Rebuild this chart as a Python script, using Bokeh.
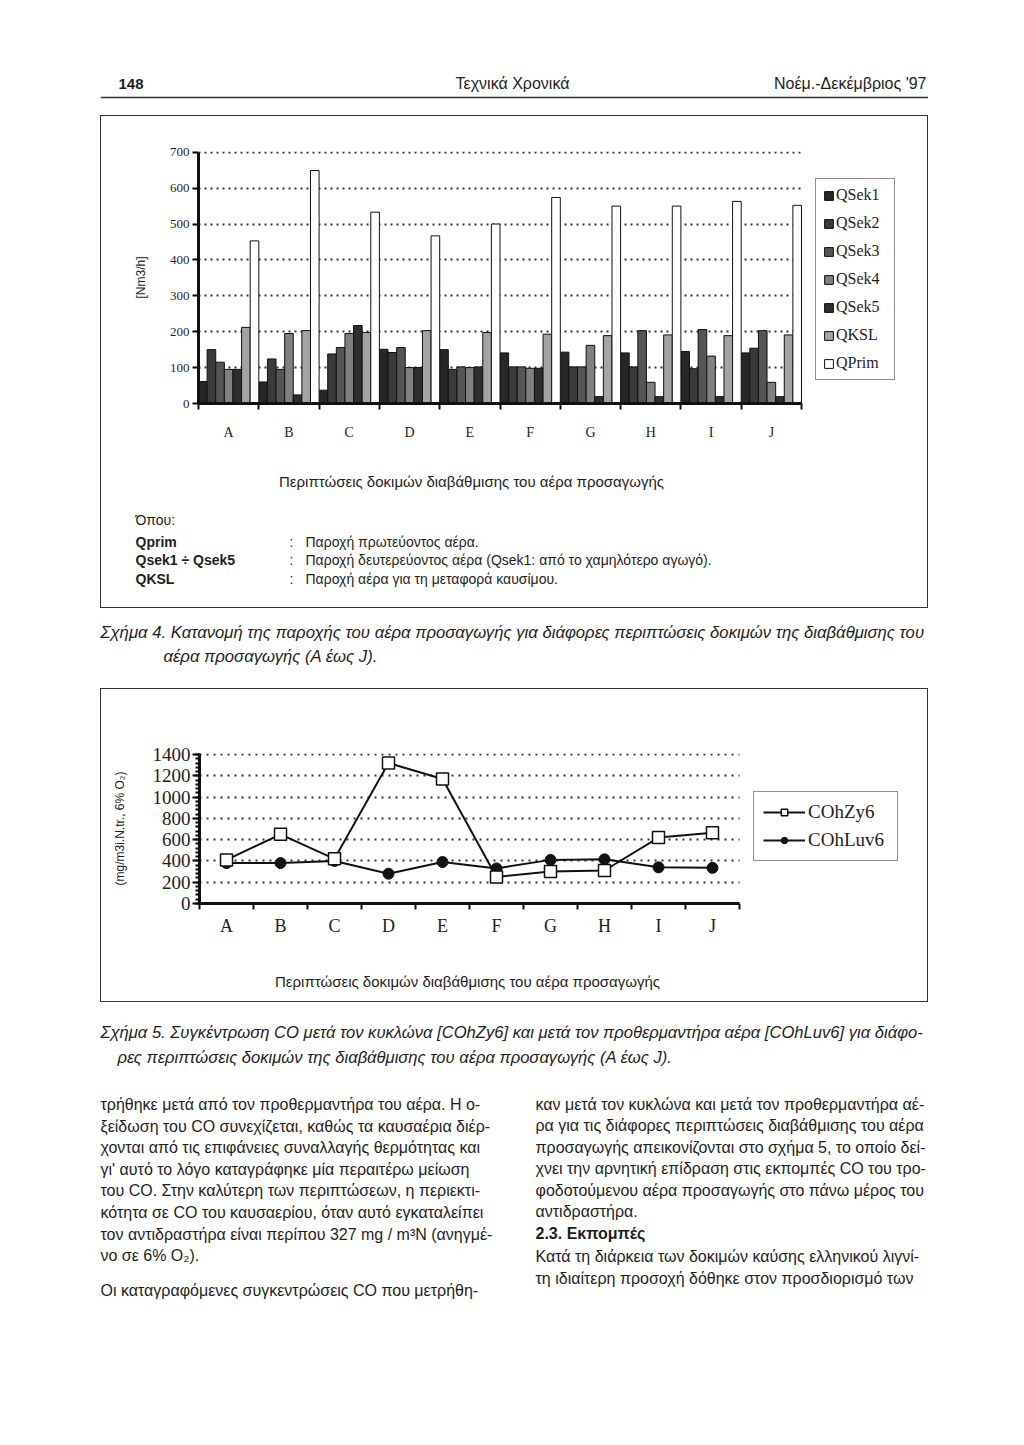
from bokeh.plotting import figure
from bokeh.models import (Range1d, Label, Legend, LegendItem, LinearAxis,
                          FixedTicker, SingleIntervalTicker, Span,
                          ColumnDataSource, Spacer, InlineStyleSheet)
from bokeh.layouts import column, row
from bokeh.transform import dodge
from bokeh.embed import file_html
from bokeh.resources import INLINE

# ---------------- data ----------------
cases = ["A", "B", "C", "D", "E", "F", "G", "H", "I", "J"]

# Figure 4: supply air flow [Nm3/h]
qsek1 = [61, 60, 37, 151, 150, 141, 143, 141, 145, 141]
qsek2 = [150, 124, 138, 142, 95, 102, 102, 102, 97, 154]
qsek3 = [115, 95, 156, 156, 102, 102, 102, 203, 206, 203]
qsek4 = [95, 195, 195, 100, 100, 98, 162, 59, 132, 59]
qsek5 = [95, 24, 217, 100, 102, 98, 19, 19, 19, 19]
qksl = [212, 203, 198, 203, 198, 193, 189, 191, 189, 191]
qprim = [453, 649, 533, 467, 500, 574, 550, 550, 563, 552]
bar_names = ["QSek1", "QSek2", "QSek3", "QSek4", "QSek5", "QKSL", "QPrim"]
y1_ticks = [0, 100, 200, 300, 400, 500, 600, 700]

# Figure 5: CO concentration (mg/m3i.N.tr., 6% O2)
cohzy6 = [410, 650, 420, 1320, 1170, 250, 300, 310, 620, 665]
cohluv6 = [380, 380, 400, 280, 390, 330, 410, 415, 340, 335]
y2_ticks = [0, 200, 400, 600, 800, 1000, 1200, 1400]

SERIF = "Liberation Serif"
SANS = "Liberation Sans"
INK = "#1e1e1e"

n = len(cases)
xc = [i + 0.5 for i in range(n)]          # category centres on a linear scale
bounds = list(range(n + 1))               # category boundaries (tick marks)
label_map = {x: c for x, c in zip(xc, cases)}

box_css = InlineStyleSheet(css="""
:host { position: relative; }
:host::after { content: ""; position: absolute; left: 0; top: 0; right: 0; bottom: 0;
  border: 1.5px solid #333; box-sizing: border-box; pointer-events: none; z-index: 100; }
""")


def lab(p, x, y, text, size=15, font=SANS, style="normal", align="left", color=INK):
    p.add_layout(Label(x=x, y=y, text=text, text_font=font, text_font_size=f"{size}px",
                       text_font_style=style, text_align=align,
                       text_baseline="middle", text_color=color))


def text_fig(x0, x1, y0, y1):
    p = figure(width=x1 - x0, height=y1 - y0, x_range=Range1d(x0, x1),
               y_range=Range1d(y1, y0), output_backend="svg", toolbar_location=None,
               title=None, min_border=0, x_axis_location=None, y_axis_location=None,
               outline_line_color=None, frame_align=False)
    p.xgrid.visible = False
    p.ygrid.visible = False
    return p


def case_axis(p, label_size, standoff):
    ax = LinearAxis(ticker=FixedTicker(ticks=xc, minor_ticks=bounds),
                    major_label_overrides=label_map, bounds=(0, n),
                    major_tick_line_color=None, major_tick_out=6, major_tick_in=0,
                    minor_tick_out=6, minor_tick_in=0, minor_tick_line_width=2,
                    minor_tick_line_color="#111",
                    axis_line_width=3, axis_line_color="#111",
                    major_label_text_font=SERIF,
                    major_label_text_font_size=f"{label_size}px",
                    major_label_text_color=INK, major_label_standoff=standoff)
    p.add_layout(ax, "below")


def style_y(ax, ticker, size, standoff, tick_out, title, title_standoff, top):
    ax.ticker = ticker
    ax.bounds = (0, top)
    ax.axis_line_width = 3
    ax.axis_line_color = "#111"
    ax.major_tick_out = tick_out
    ax.major_tick_in = 0
    ax.major_tick_line_width = 2
    ax.minor_tick_out = 4
    ax.minor_tick_in = 0
    ax.minor_tick_line_width = 2
    ax.major_label_text_font = SERIF
    ax.major_label_text_font_size = f"{size}px"
    ax.major_label_text_color = INK
    ax.major_label_standoff = standoff
    ax.axis_label = title
    ax.axis_label_text_font = SANS
    ax.axis_label_text_font_size = "12px"
    ax.axis_label_text_font_style = "normal"
    ax.axis_label_text_color = INK
    ax.axis_label_standoff = title_standoff


def style_grid(p, ticker, dash):
    g = p.ygrid[0]
    g.ticker = ticker
    g.grid_line_color = "#333"
    g.grid_line_dash = dash
    g.grid_line_width = 2
    try:
        g.cross_bounds = (0, n)
    except Exception:
        pass
    p.xgrid.visible = False


# ---------------- header ----------------
hdr = text_fig(100, 928, 0, 115)
lab(hdr, 118, 83, "148", size=15, style="bold")
lab(hdr, 512, 83, "Τεχνικά Χρονικά", size=16, align="center")
lab(hdr, 926, 83, "Νοέμ.-Δεκέμβριος '97", size=16, align="right")
hdr.add_layout(Span(location=97, dimension="width", line_color="#333", line_width=1.5))

# ---------------- figure 4 (bars) ----------------
# frame spans page x 198..905; the ten cases fill 198..801, the legend sits to the right
p1 = figure(width=828, height=335, x_range=Range1d(0, n * 707 / 603),
            y_range=Range1d(0, 702), x_axis_location=None,
            output_backend="svg", toolbar_location=None, title=None,
            min_border_left=98, min_border_right=23, min_border_top=36,
            min_border_bottom=47, outline_line_color=None, frame_align=False)

src1 = ColumnDataSource(dict(xc=xc, cases=cases, qsek1=qsek1, qsek2=qsek2, qsek3=qsek3,
                             qsek4=qsek4, qsek5=qsek5, qksl=qksl, qprim=qprim))
cols = ["qsek1", "qsek2", "qsek3", "qsek4", "qsek5", "qksl", "qprim"]
fills = ["#262626", "#3a3a3a", "#555555", "#808080", "#2e2e2e", "#a3a3a3", "#ffffff"]
nb = len(cols)
bw = 1.0 / nb
items1 = []
for i, (c, nm, fc) in enumerate(zip(cols, bar_names, fills)):
    r = p1.vbar(x=dodge("xc", (i - (nb - 1) / 2) * bw), top=c,
                width=bw, source=src1, fill_color=fc, line_color="#111", line_width=1)
    items1.append(LegendItem(label=nm, renderers=[r]))

t1 = FixedTicker(ticks=y1_ticks)
style_y(p1.yaxis[0], t1, 13, 3, 6, "[Nm3/h]", 19, 700)
p1.yaxis[0].minor_tick_line_color = None
style_grid(p1, t1, "2 4")
case_axis(p1, 14, 15)

leg1 = Legend(items=items1, location=(617, 23), border_line_color="#222",
              border_line_width=1.5, background_fill_color="white", background_fill_alpha=1,
              label_text_font=SERIF, label_text_font_size="16px", label_text_color=INK,
              glyph_width=11, glyph_height=11, spacing=10, padding=7, margin=0,
              label_standoff=2, label_width=51)
p1.add_layout(leg1)

notes1 = text_fig(100, 928, 450, 608)
lab(notes1, 471, 481, "Περιπτώσεις δοκιμών διαβάθμισης του αέρα προσαγωγής", size=15,
    align="center")
lab(notes1, 135, 519, "Όπου:", size=14)
notes = [("Qprim", "Παροχή πρωτεύοντος αέρα."),
         ("Qsek1 ÷ Qsek5", "Παροχή δευτερεύοντος αέρα (Qsek1: από το χαμηλότερο αγωγό)."),
         ("QKSL", "Παροχή αέρα για τη μεταφορά καυσίμου.")]
for k, (a, b) in enumerate(notes):
    yy = 541 + 18.5 * k
    lab(notes1, 135, yy, a, size=14, style="bold")
    lab(notes1, 289, yy, ":", size=14)
    lab(notes1, 305, yy, b, size=14)

box1 = column(p1, notes1, stylesheets=[box_css])

# ---------------- caption 4 ----------------
cap4 = text_fig(0, 1024, 608, 688)
lab(cap4, 100, 632, "Σχήμα 4. Κατανομή της παροχής του αέρα προσαγωγής για διάφορες "
    "περιπτώσεις δοκιμών της διαβάθμισης του", size=16.7, style="italic")
lab(cap4, 163, 656, "αέρα προσαγωγής (A έως J).", size=16.7, style="italic")

# ---------------- figure 5 (lines) ----------------
# frame spans page x 199..905; the ten cases fill 199..739, the legend sits to the right
p2 = figure(width=828, height=257, x_range=Range1d(0, n * 706 / 540),
            y_range=Range1d(0, 1410), x_axis_location=None,
            output_backend="svg", toolbar_location=None, title=None,
            min_border_left=99, min_border_right=23, min_border_top=65,
            min_border_bottom=42, outline_line_color=None, frame_align=False)
src2 = ColumnDataSource(dict(xc=xc, cases=cases, zy=cohzy6, luv=cohluv6))
l_luv = p2.line(x="xc", y="luv", source=src2, line_color="#111", line_width=2)
l_zy = p2.line(x="xc", y="zy", source=src2, line_color="#111", line_width=2)
s_luv = p2.scatter(x="xc", y="luv", source=src2, marker="circle", size=11,
                   fill_color="#111", line_color="#111")
s_zy = p2.scatter(x="xc", y="zy", source=src2, marker="square", size=12,
                  fill_color="white", line_color="#111", line_width=1.5)

style_y(p2.yaxis[0], SingleIntervalTicker(interval=200, num_minor_ticks=5), 19, 2, 7,
        "(mg/m3i.N.tr., 6% O₂)", 23, 1410)
style_grid(p2, FixedTicker(ticks=y2_ticks), "2 5")
case_axis(p2, 18, 6)

leg2 = Legend(items=[LegendItem(label="COhZy6", renderers=[l_zy, s_zy]),
                     LegendItem(label="COhLuv6", renderers=[l_luv, s_luv])],
              location=(554, 42), border_line_color="#222", border_line_width=1.5,
              background_fill_color="white", background_fill_alpha=1,
              label_text_font=SERIF, label_text_font_size="19px", label_text_color=INK,
              glyph_width=42, glyph_height=16, spacing=6, padding=9, margin=0,
              label_standoff=3, label_width=80)
p2.add_layout(leg2)

notes2 = text_fig(100, 928, 945, 1002)
lab(notes2, 467, 981, "Περιπτώσεις δοκιμών διαβάθμισης του αέρα προσαγωγής", size=15,
    align="center")

box2 = column(p2, notes2, stylesheets=[box_css])

# ---------------- caption 5 and body text ----------------
body = text_fig(0, 1024, 1002, 1445)
lab(body, 100, 1032, "Σχήμα 5. Συγκέντρωση CO μετά τον κυκλώνα [COhZy6] και μετά τον "
    "προθερμαντήρα αέρα [COhLuv6] για διάφο-", size=16.6, style="italic")
lab(body, 117, 1057, "ρες περιπτώσεις δοκιμών της διαβάθμισης του αέρα προσαγωγής (A έως J).",
    size=16.6, style="italic")

left_lines = [
    "τρήθηκε μετά από τον προθερμαντήρα του αέρα. Η ο-",
    "ξείδωση του CO συνεχίζεται, καθώς τα καυσαέρια διέρ-",
    "χονται από τις επιφάνειες συναλλαγής θερμότητας και",
    "γι' αυτό το λόγο καταγράφηκε μία περαιτέρω μείωση",
    "του CO. Στην καλύτερη των περιπτώσεων, η περιεκτι-",
    "κότητα σε CO του καυσαερίου, όταν αυτό εγκαταλείπει",
    "τον αντιδραστήρα είναι περίπου 327 mg / m³N (ανηγμέ-",
    "νο σε 6% O₂).",
]
for k, t in enumerate(left_lines):
    lab(body, 100, 1104 + 21.6 * k, t, size=16)
lab(body, 100, 1290, "Οι καταγραφόμενες συγκεντρώσεις CO που μετρήθη-", size=16)

right_lines = [
    "καν μετά τον κυκλώνα και μετά τον προθερμαντήρα αέ-",
    "ρα για τις διάφορες περιπτώσεις διαβάθμισης του αέρα",
    "προσαγωγής απεικονίζονται στο σχήμα 5, το οποίο δεί-",
    "χνει την αρνητική επίδραση στις εκπομπές CO του τρο-",
    "φοδοτούμενου αέρα προσαγωγής στο πάνω μέρος του",
    "αντιδραστήρα.",
]
for k, t in enumerate(right_lines):
    lab(body, 535, 1104 + 21.4 * k, t, size=16)
lab(body, 535, 1233, "2.3. Εκπομπές", size=16, style="bold")
lab(body, 535, 1256, "Κατά τη διάρκεια των δοκιμών καύσης ελληνικού λιγνί-", size=16)
lab(body, 535, 1278, "τη ιδιαίτερη προσοχή δόθηκε στον προσδιορισμό των", size=16)

# ---------------- page layout ----------------
page = column(
    row(Spacer(width=100, height=115), hdr, Spacer(width=96, height=115)),
    row(Spacer(width=100, height=493), box1, Spacer(width=96, height=493)),
    cap4,
    row(Spacer(width=100, height=314), box2, Spacer(width=96, height=314)),
    body,
)

open("out.html", "w").write(file_html(page, INLINE, title="Σχήμα 4 και 5"))
